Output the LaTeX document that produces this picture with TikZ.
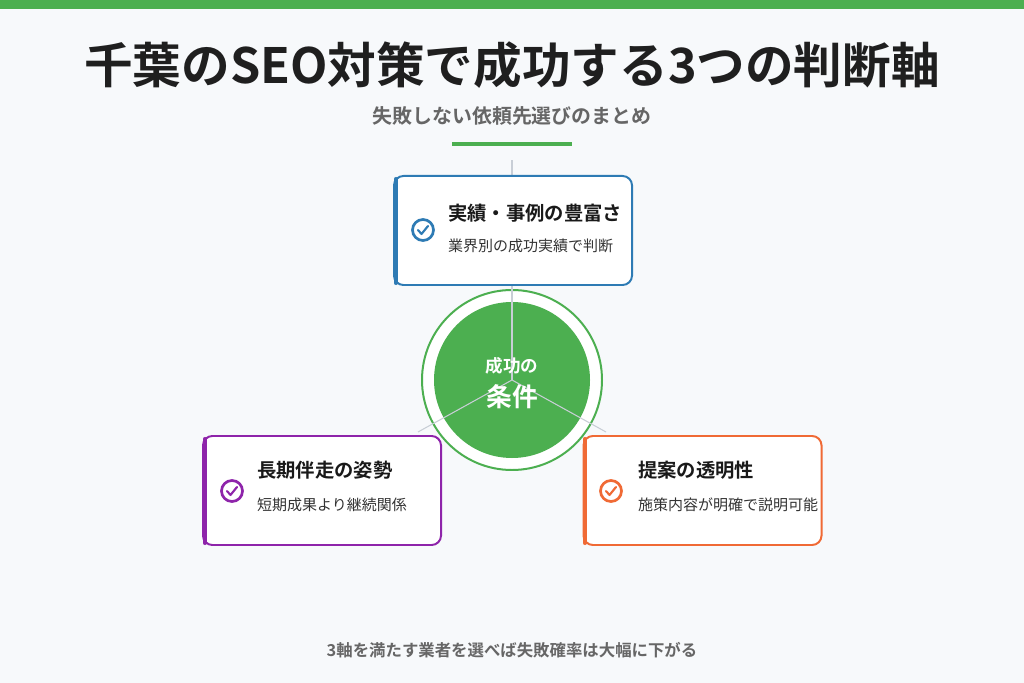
\documentclass[tikz,border=0pt]{standalone}
\usepackage{fontspec}
\setmainfont{Noto Sans CJK JP}
\newfontfamily\boldjp{Noto Sans CJK JP Bold}
\usetikzlibrary{positioning, calc}
\definecolor{bggray}{HTML}{F7F9FB}
\definecolor{okgreen}{HTML}{4CAF50}
\definecolor{cardblue}{HTML}{2E7BB4}
\definecolor{cardpurple}{HTML}{8E24AA}
\definecolor{cardorange}{HTML}{F06A35}
\definecolor{txtgray}{HTML}{666666}
\definecolor{linegray}{HTML}{C8CED6}
\tikzset{
    x=0.03cm, y=-0.03cm,
    card/.style={draw=#1, line width=1.7pt, rounded corners=8pt, fill=white, minimum width=7.14cm, minimum height=3.27cm}, % the three cards
    cardtitle/.style={anchor=west, font=\boldjp\fontsize{16.5}{18}\selectfont, text=black!90},
    cardtext/.style={anchor=west, font=\fontsize{12.8}{14}\selectfont, text=black!80},
    spoke/.style={draw=linegray, line width=0.9pt},
}
\newcommand{\checkicon}[2]{%
  \draw[#2, line width=2.3pt] (#1) circle (10.5);
  \draw[#2, line width=1.8pt, line cap=round, line join=round] ($(#1)+(-5,0)$) -- ($(#1)+(-1.5,4)$) -- ($(#1)+(5,-4)$);
}
\begin{document}
\begin{tikzpicture}
\fill[bggray] (0,0) rectangle (1024,683);
\useasboundingbox (0,0) rectangle (1024,683);
\fill[okgreen] (0,0) rectangle (1024,9);
% header
\node[font=\boldjp\fontsize{41.5}{46}\selectfont, text=black!88] (title) at (512,65) {千葉のSEO対策で成功する3つの判断軸};
\node[font=\boldjp\fontsize{17}{20}\selectfont, text=txtgray] (subtitle) at (512,116) {失敗しない依頼先選びのまとめ};
\draw[okgreen, line width=3.4pt] (452,144) -- (572,144);
% spokes
\coordinate (hub) at (512,380);
\coordinate (topend) at (512,160);
\node[circle, draw=okgreen, line width=1.7pt, fill=white, minimum size=5.4cm] (ring) at (hub) {};
\node[circle, fill=okgreen, minimum size=4.68cm] (core) at (hub) {};
\draw[spoke] (hub) -- (topend);
\draw[spoke] (hub) -- (418,432);
\draw[spoke] (hub) -- (606,432);
\node[text=white, font=\boldjp\fontsize{15}{17}\selectfont] (hubtop) at (512,366) {成功の};
\node[text=white, font=\boldjp\fontsize{22}{24}\selectfont] (hubbot) at (512,397) {条件};
% cards
\node[card=cardblue] (track) at (513,230.5) {};
\draw[cardblue, line width=3.5pt, line cap=round] (396,179) -- (396,283);
\checkicon{423,230}{cardblue}
\node[cardtitle] (tracktitle) at (444,213) {実績・事例の豊富さ};
\node[cardtext] (tracktext) at (444,246) {業界別の成功実績で判断};

\node[card=cardpurple] (care) at (322,490.5) {};
\draw[cardpurple, line width=3.5pt, line cap=round] (205,439) -- (205,543);
\checkicon{232,491}{cardpurple}
\node[cardtitle] (caretitle) at (253,470) {長期伴走の姿勢};
\node[cardtext] (caretext) at (253,505) {短期成果より継続関係};

\node[card=cardorange] (open) at (702.5,490.5) {};
\draw[cardorange, line width=3.5pt, line cap=round] (585,439) -- (585,543);
\checkicon{611,491}{cardorange}
\node[cardtitle] (opentitle) at (634,470) {提案の透明性};
\node[cardtext] (opentext) at (634,505) {施策内容が明確で説明可能};
% footer
\node[font=\boldjp\fontsize{14}{16}\selectfont, text=txtgray] (footer) at (512,650) {3軸を満たす業者を選べば失敗確率は大幅に下がる};
\end{tikzpicture}
\end{document}
